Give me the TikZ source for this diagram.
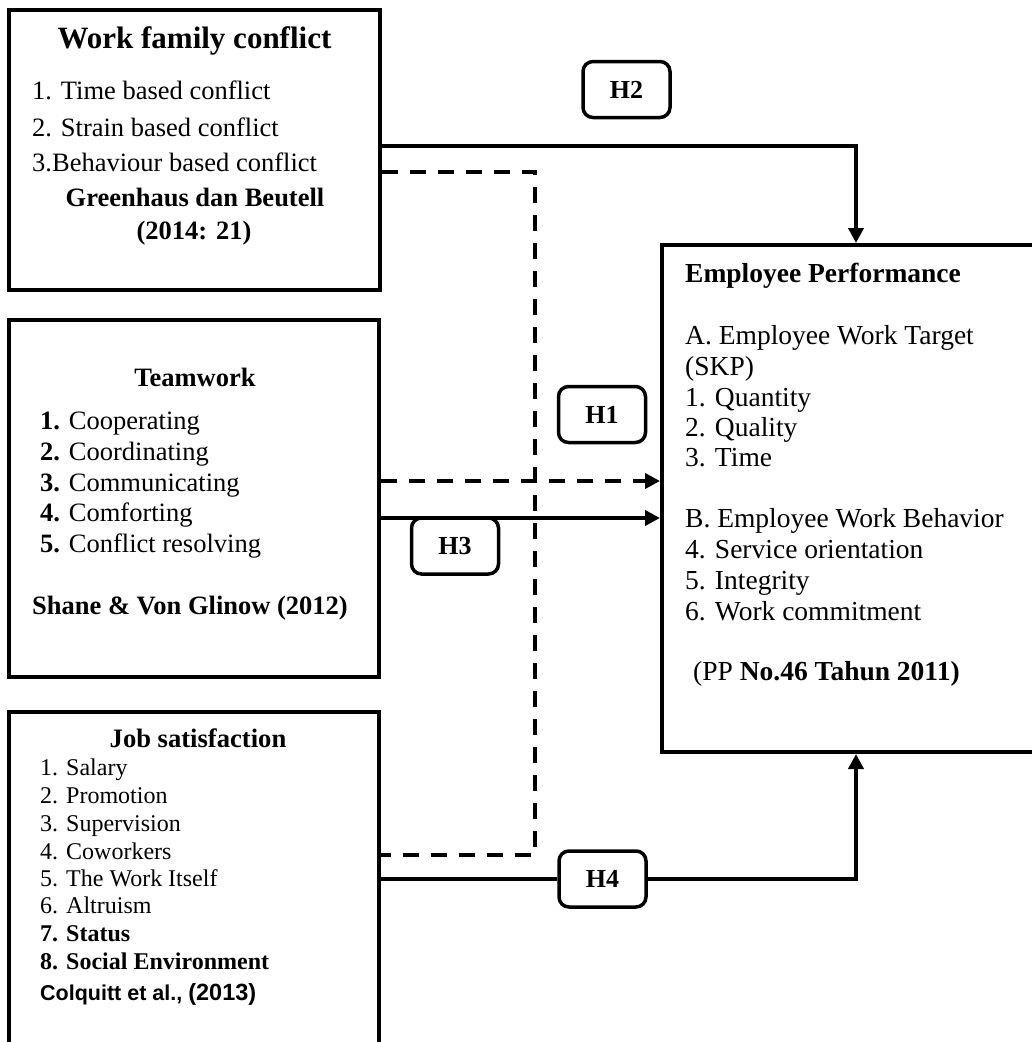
\documentclass[tikz,border=0pt]{standalone}
\usepackage{fontspec}
\setmainfont{Liberation Serif}
\newfontfamily\arialfont{Liberation Sans}
\usetikzlibrary{arrows.meta}
\begin{document}
\begin{tikzpicture}[x=1pt,y=-1pt,
  bigbox/.style={draw,line width=4pt,rectangle,inner sep=0pt},
  hyp/.style={draw,line width=3.5pt,rounded corners=10pt,inner sep=0pt,
    minimum width=87pt,minimum height=56pt,font=\bfseries\fontsize{26}{30}\selectfont},
  txt/.style={inner sep=0pt,anchor=base west,font=\fontsize{26.5}{30}\selectfont},
  ctxt/.style={inner sep=0pt,anchor=base,font=\fontsize{26.5}{30}\selectfont},
  jtxt/.style={inner sep=0pt,anchor=base west,font=\fontsize{24}{28}\selectfont},
  etxt/.style={inner sep=0pt,anchor=base west,font=\fontsize{27.5}{31}\selectfont},
  conn/.style={line width=4pt},
  dconn/.style={line width=4pt,dash pattern=on 16pt off 12pt},
  arr/.style={-{Triangle[length=15pt,width=15pt]}}
]
\clip (0,0) rectangle (1032,1042);
\fill[white] (0,0) rectangle (1032,1042);

% boxes
\node[bigbox,minimum width=371pt,minimum height=280pt] (wfc) at (194.5,150) {};
\node[bigbox,minimum width=370pt,minimum height=357pt] (tw) at (194,498.5) {};
\node[bigbox,minimum width=370pt,minimum height=368pt] (js) at (194,896) {};
\node[bigbox,minimum width=388pt,minimum height=507pt] (ep) at (856,498.5) {};

% hypothesis boxes
\node[hyp] (h2) at (626.5,89.5) {H2};
\node[hyp] (h1) at (602,414.5) {H1};
\node[hyp] (h3) at (455,546) {H3};
\node[hyp] (h4) at (602.5,879) {H4};

% Work family conflict text
\node[ctxt,font=\bfseries\fontsize{31}{34}\selectfont] (wfct) at (194.5,48) {Work family conflict};
\node[txt] (wfc1) at (32,99) {1. Time based conflict};
\node[txt] (wfc2) at (32,136) {2. Strain based conflict};
\node[txt] (wfc3) at (32,171) {3.Behaviour based conflict};
\node[ctxt,font=\bfseries\fontsize{26.5}{30}\selectfont] (wfcr1) at (195,206) {Greenhaus dan Beutell};
\node[ctxt,font=\bfseries\fontsize{26.5}{30}\selectfont] (wfcr2) at (194,239) {(2014: 21)};

% Teamwork text
\node[ctxt,font=\bfseries\fontsize{26.5}{30}\selectfont] (twt) at (195,386) {Teamwork};
\node[txt] (tw1) at (40,429) {\textbf{1.} Cooperating};
\node[txt] (tw2) at (40,460) {\textbf{2.} Coordinating};
\node[txt] (tw3) at (40,491) {\textbf{3.} Communicating};
\node[txt] (tw4) at (40,521) {\textbf{4.} Comforting};
\node[txt] (tw5) at (40,552) {\textbf{5.} Conflict resolving};
\node[txt,font=\bfseries\fontsize{26.5}{30}\selectfont] (twr) at (32,614) {Shane \& Von Glinow (2012)};

% Job satisfaction text
\node[ctxt,font=\bfseries\fontsize{26.6}{30}\selectfont] (jst) at (198,747) {Job satisfaction};
\node[jtxt] (js1) at (40,775) {1. Salary};
\node[jtxt] (js2) at (40,803) {2. Promotion};
\node[jtxt] (js3) at (40,831) {3. Supervision};
\node[jtxt] (js4) at (40,859) {4. Coworkers};
\node[jtxt] (js5) at (40,886) {5. The Work Itself};
\node[jtxt] (js6) at (40,913) {6. Altruism};
\node[jtxt,font=\bfseries\fontsize{24}{28}\selectfont] (js7) at (40,941) {7. Status};
\node[jtxt,font=\bfseries\fontsize{24}{28}\selectfont] (js8) at (40,969) {8. Social Environment};
\node[jtxt,font=\arialfont\bfseries\fontsize{21.5}{24}\selectfont] (jsr) at (40,1000) {Colquitt et al., {\fontsize{23.5}{26}\selectfont (2013)}};

% Employee performance text
\node[etxt,font=\bfseries\fontsize{27.5}{31}\selectfont] (ept) at (685,282) {Employee Performance};
\node[etxt] (epa) at (685,344) {A. Employee Work Target};
\node[etxt] (epa0) at (685,375) {(SKP)};
\node[etxt] (ep1) at (685,406) {1. Quantity};
\node[etxt] (ep2) at (685,436) {2. Quality};
\node[etxt] (ep3) at (685,466) {3. Time};
\node[etxt] (epb) at (685,527) {B. Employee Work Behavior};
\node[etxt] (ep4) at (685,558) {4. Service orientation};
\node[etxt] (ep5) at (685,589) {5. Integrity};
\node[etxt] (ep6) at (685,620) {6. Work commitment};
\node[etxt] (epr) at (693,680) {(PP \textbf{No.46 Tahun 2011)}};

% connectors
\coordinate (d1) at (535,172);
\coordinate (d2) at (535,855);
\draw[conn,arr] ([yshift=4pt]wfc.east) -| (ep.north);
\draw[dconn] (wfc.east |- d1) -- (d1) -- (d2) -- (js.east |- d2);
\draw[dconn,arr] ([yshift=17.5pt]tw.east) -- ([yshift=17.5pt]ep.west);
\draw[conn,arr] ([yshift=-19.5pt]tw.east) -- ([yshift=-19.5pt]ep.west);
\draw[conn] (js.east |- h4.west) -- (h4.west);
\draw[conn,arr] (h4.east) -| (ep.south);
\end{tikzpicture}
\end{document}
